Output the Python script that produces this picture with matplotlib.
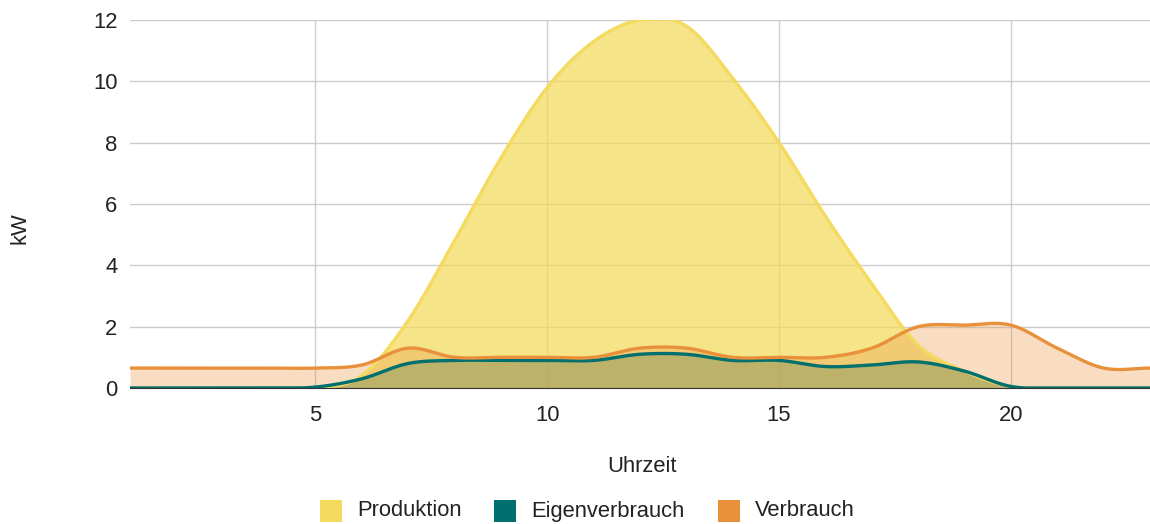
import numpy as np
import matplotlib.pyplot as plt
from matplotlib.patches import Rectangle

plt.rcParams['font.family'] = ['Liberation Sans', 'DejaVu Sans']

hours = [1, 2, 3, 4, 5, 6, 7, 8, 9, 10, 11, 12, 13, 14, 15, 16, 17, 18, 19, 20, 21, 22, 23]
produktion = [0, 0, 0, 0, 0, 0.4, 2.2, 4.8, 7.5, 9.8, 11.3, 12.0, 11.8, 10.1, 8.0, 5.6, 3.4, 1.4, 0.55, 0.05, 0, 0, 0]
eigenverbrauch = [0, 0, 0, 0, 0.03, 0.3, 0.8, 0.9, 0.9, 0.9, 0.9, 1.1, 1.1, 0.9, 0.9, 0.7, 0.75, 0.85, 0.55, 0.05, 0, 0, 0]
verbrauch = [0.65, 0.65, 0.65, 0.65, 0.65, 0.75, 1.3, 1.0, 1.0, 1.0, 1.0, 1.3, 1.3, 1.0, 1.0, 1.0, 1.3, 2.0, 2.05, 2.05, 1.3, 0.65, 0.65]
labels = ['Produktion', 'Eigenverbrauch', 'Verbrauch']

c_prod = '#f4da5e'
c_eigen = '#00706e'
c_verb = '#e8913a'
W, H = 1150, 524
fs = 15.8


def smooth(x, y, n=30):
    # hermite curve through the hourly points
    x = np.asarray(x, float)
    y = np.asarray(y, float)
    m = np.gradient(y, x)
    xs, ys = [], []
    for i in range(len(x) - 1):
        t = np.linspace(0, 1, n, endpoint=False)
        h = x[i + 1] - x[i]
        h00 = 2 * t**3 - 3 * t**2 + 1
        h10 = t**3 - 2 * t**2 + t
        h01 = -2 * t**3 + 3 * t**2
        h11 = t**3 - t**2
        xs.append(x[i] + t * h)
        ys.append(h00 * y[i] + h10 * h * m[i] + h01 * y[i + 1] + h11 * h * m[i + 1])
    xs.append([x[-1]])
    ys.append([y[-1]])
    return np.concatenate(xs), np.clip(np.concatenate(ys), 0, None)


fig = plt.figure(figsize=(W / 100, H / 100), dpi=100)
ax = fig.add_axes([130 / W, 1 - 388 / H, 1020 / W, 368 / H])

for data, col, a in [(produktion, c_prod, 0.73), (eigenverbrauch, c_eigen, 0.3), (verbrauch, c_verb, 0.3)]:
    xs, ys = smooth(hours, data)
    ax.fill_between(xs, 0, ys, color=col, alpha=a, linewidth=0, zorder=2)
    ax.plot(xs, ys, color=col, linewidth=2.4, zorder=3)

ax.set_xlim(1, 23)
ax.set_ylim(0, 12)
ax.set_xticks([5, 10, 15, 20])
ax.set_yticks(range(0, 13, 2))
ax.grid(True, color='#cccccc', linewidth=1)
ax.set_axisbelow(True)
for s in ['top', 'right', 'left']:
    ax.spines[s].set_visible(False)
ax.spines['bottom'].set_color('#333333')
ax.spines['bottom'].set_zorder(4)
ax.tick_params(axis='y', length=0, labelsize=fs, colors='#222222', pad=9)
ax.tick_params(axis='x', length=0, labelsize=fs, colors='#222222', pad=12)

fig.text(642 / W, 1 - 467 / H, 'Uhrzeit', fontsize=fs, color='#222222', ha='center', va='center')
fig.text(20 / W, 1 - 228 / H, 'kW', fontsize=fs, color='#222222', ha='center', va='center', rotation=90)

# legend drawn by hand to match the reference spacing
sw_x = [320, 494, 718]
for x0, col, lab in zip(sw_x, [c_prod, c_eigen, c_verb], labels):
    fig.patches.append(Rectangle((x0 / W, 1 - 522 / H), 22 / W, 22 / H, transform=fig.transFigure,
                                 facecolor=col, edgecolor='none'))
    fig.text((x0 + 37) / W, 1 - 511 / H, lab, fontsize=fs, color='#222222', ha='left', va='center')

fig.savefig('out.png', dpi=100)
